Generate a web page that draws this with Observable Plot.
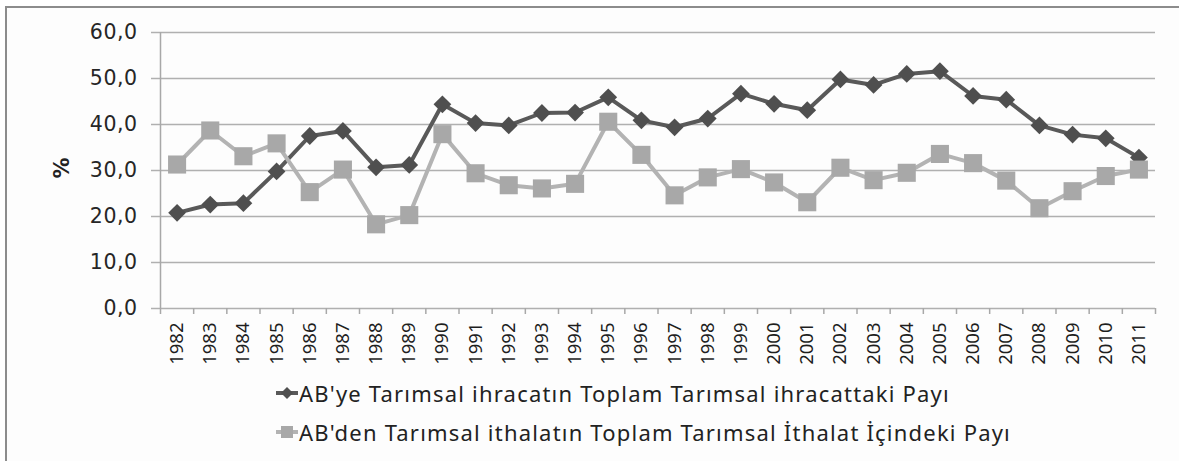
<!DOCTYPE html>
<html>
<head>
<meta charset="utf-8">
<script src="https://cdn.jsdelivr.net/npm/d3@7"></script>
<script src="https://cdn.jsdelivr.net/npm/@observablehq/plot@0.6"></script>
<style>
  html, body { margin: 0; padding: 0; background: #ffffff; }
  #page { position: relative; width: 1179px; height: 461px; overflow: hidden; background: #ffffff; }
  #frame { position: absolute; left: 5px; top: 6px; width: 1200px; height: 500px;
           border-left: 2px solid #8c8c8c; border-top: 2px solid #8c8c8c; background: #fdfdfd; }
  #chart { position: absolute; left: 0; top: 0; }
  #chart g[aria-label="y-axis tick label"] { font-size: 20.5px; font-family: "DejaVu Sans", sans-serif; }
  #chart g[aria-label="y-axis tick label"] text { letter-spacing: 0.5px; }
  #ylabel { position: absolute; left: 50px; top: 156px; width: 24px; height: 24px;
            font-family: "DejaVu Sans", sans-serif; font-weight: bold; font-size: 21px; color: #222;
            transform: rotate(-90deg); text-align: center; line-height: 24px; }
  .legend-row { position: absolute; left: 276px; height: 26px; display: flex; align-items: center;
                font-family: "Noto Sans", sans-serif; font-size: 22px; letter-spacing: 1.2px; color: #222; white-space: nowrap; }
  .legend-row svg { margin-right: 1px; }
</style>
</head>
<body>
<div id="page">
  <div id="frame"></div>
  <div id="chart"></div>
  <div id="ylabel">%</div>
  <div class="legend-row" id="leg1" style="top:380px"></div>
  <div class="legend-row" id="leg2" style="top:419px"></div>
</div>
<script>
const years = [1982,1983,1984,1985,1986,1987,1988,1989,1990,1991,1992,1993,1994,1995,1996,1997,1998,1999,2000,2001,2002,2003,2004,2005,2006,2007,2008,2009,2010,2011];
const exportShare = [20.8,22.6,22.9,29.8,37.5,38.6,30.7,31.2,44.4,40.3,39.8,42.5,42.6,45.9,40.9,39.4,41.3,46.7,44.5,43.1,49.8,48.6,51.0,51.6,46.2,45.4,39.8,37.8,37.0,32.8];
const importShare = [31.3,38.7,33.1,35.9,25.3,30.2,18.3,20.3,37.9,29.4,26.8,26.1,27.1,40.6,33.4,24.6,28.5,30.3,27.4,23.1,30.6,27.9,29.5,33.6,31.6,27.8,21.8,25.5,28.8,30.2];
const yTicks = [0,10,20,30,40,50,60];
const seriesNames = ["AB'ye Tarımsal ihracatın Toplam Tarımsal ihracattaki Payı",
                     "AB'den Tarımsal ithalatın Toplam Tarımsal İthalat İçindeki Payı"];
const seriesColors = { line: ["#595959", "#b3b3b3"], marker: ["#4f4f4f", "#a8a8a8"] };

const exportData = years.map((y, i) => ({year: y, value: exportShare[i]}));
const importData = years.map((y, i) => ({year: y, value: importShare[i]}));
const boundaries = years.map(y => y - 0.5).concat([years[years.length - 1] + 0.5]);
const xDomain = [boundaries[0], boundaries[boundaries.length - 1]];
const fmt = d => d.toFixed(1).replace(".", ",");

const chart = Plot.plot({
  width: 1179,
  height: 375,
  marginLeft: 160,
  marginRight: 24,
  marginTop: 32,
  marginBottom: 67,
  style: { background: "transparent", overflow: "visible" },
  x: { type: "linear", domain: xDomain },
  y: { domain: [0, 60] },
  marks: [
    Plot.ruleY(yTicks, { x1: xDomain[0], x2: xDomain[1], stroke: "#b0b0b0", strokeWidth: 1.5, strokeOpacity: 1 }),
    Plot.axisY({ ticks: yTicks, tickFormat: fmt, tickSize: 9, tickPadding: 14, stroke: "#b0b0b0", strokeWidth: 1.5,
                 fontSize: 20.5, fontFamily: "DejaVu Sans", fill: "#262626", label: null }),
    Plot.ruleX([xDomain[0]], { y1: 0, y2: 60, stroke: "#a8a8a8", strokeWidth: 1.5 }),
    Plot.axisX({ ticks: boundaries, tickSize: 6, tickFormat: () => "", stroke: "#a8a8a8", strokeWidth: 1.5, label: null }),
    Plot.axisX({ ticks: years, tickSize: 0, tickPadding: 14, tickRotate: -90, tickFormat: d => String(d),
                 fontSize: 18.5, fontFamily: "Noto Sans", fill: "#1e1e1e", label: null }),
    Plot.line(exportData, { x: "year", y: "value", stroke: seriesColors.line[0], strokeWidth: 4 }),
    Plot.dot(exportData, { x: "year", y: "value", symbol: "diamond2", r: 8, fill: seriesColors.marker[0], stroke: "none" }),
    Plot.line(importData, { x: "year", y: "value", stroke: seriesColors.line[1], strokeWidth: 4 }),
    Plot.dot(importData, { x: "year", y: "value", symbol: "square", r: 10.2, fill: seriesColors.marker[1], stroke: "none" })
  ]
});
document.getElementById("chart").appendChild(chart);

function legendSymbol(kind, idx) {
  const ns = "http://www.w3.org/2000/svg";
  const svg = document.createElementNS(ns, "svg");
  svg.setAttribute("width", "22"); svg.setAttribute("height", "22");
  const line = document.createElementNS(ns, "line");
  line.setAttribute("x1", "0"); line.setAttribute("x2", "22");
  line.setAttribute("y1", "11"); line.setAttribute("y2", "11");
  line.setAttribute("stroke", seriesColors.line[idx]); line.setAttribute("stroke-width", "4");
  svg.appendChild(line);
  const m = document.createElementNS(ns, "path");
  if (kind === "diamond") m.setAttribute("d", "M11,5 L17,11 L11,17 L5,11 Z");
  else m.setAttribute("d", "M5,5 H17 V17 H5 Z");
  m.setAttribute("fill", seriesColors.marker[idx]);
  svg.appendChild(m);
  return svg;
}
[["leg1", "diamond", 0], ["leg2", "square", 1]].forEach(([id, kind, idx]) => {
  const row = document.getElementById(id);
  row.appendChild(legendSymbol(kind, idx));
  const span = document.createElement("span");
  span.textContent = seriesNames[idx];
  row.appendChild(span);
});
</script>
</body>
</html>
